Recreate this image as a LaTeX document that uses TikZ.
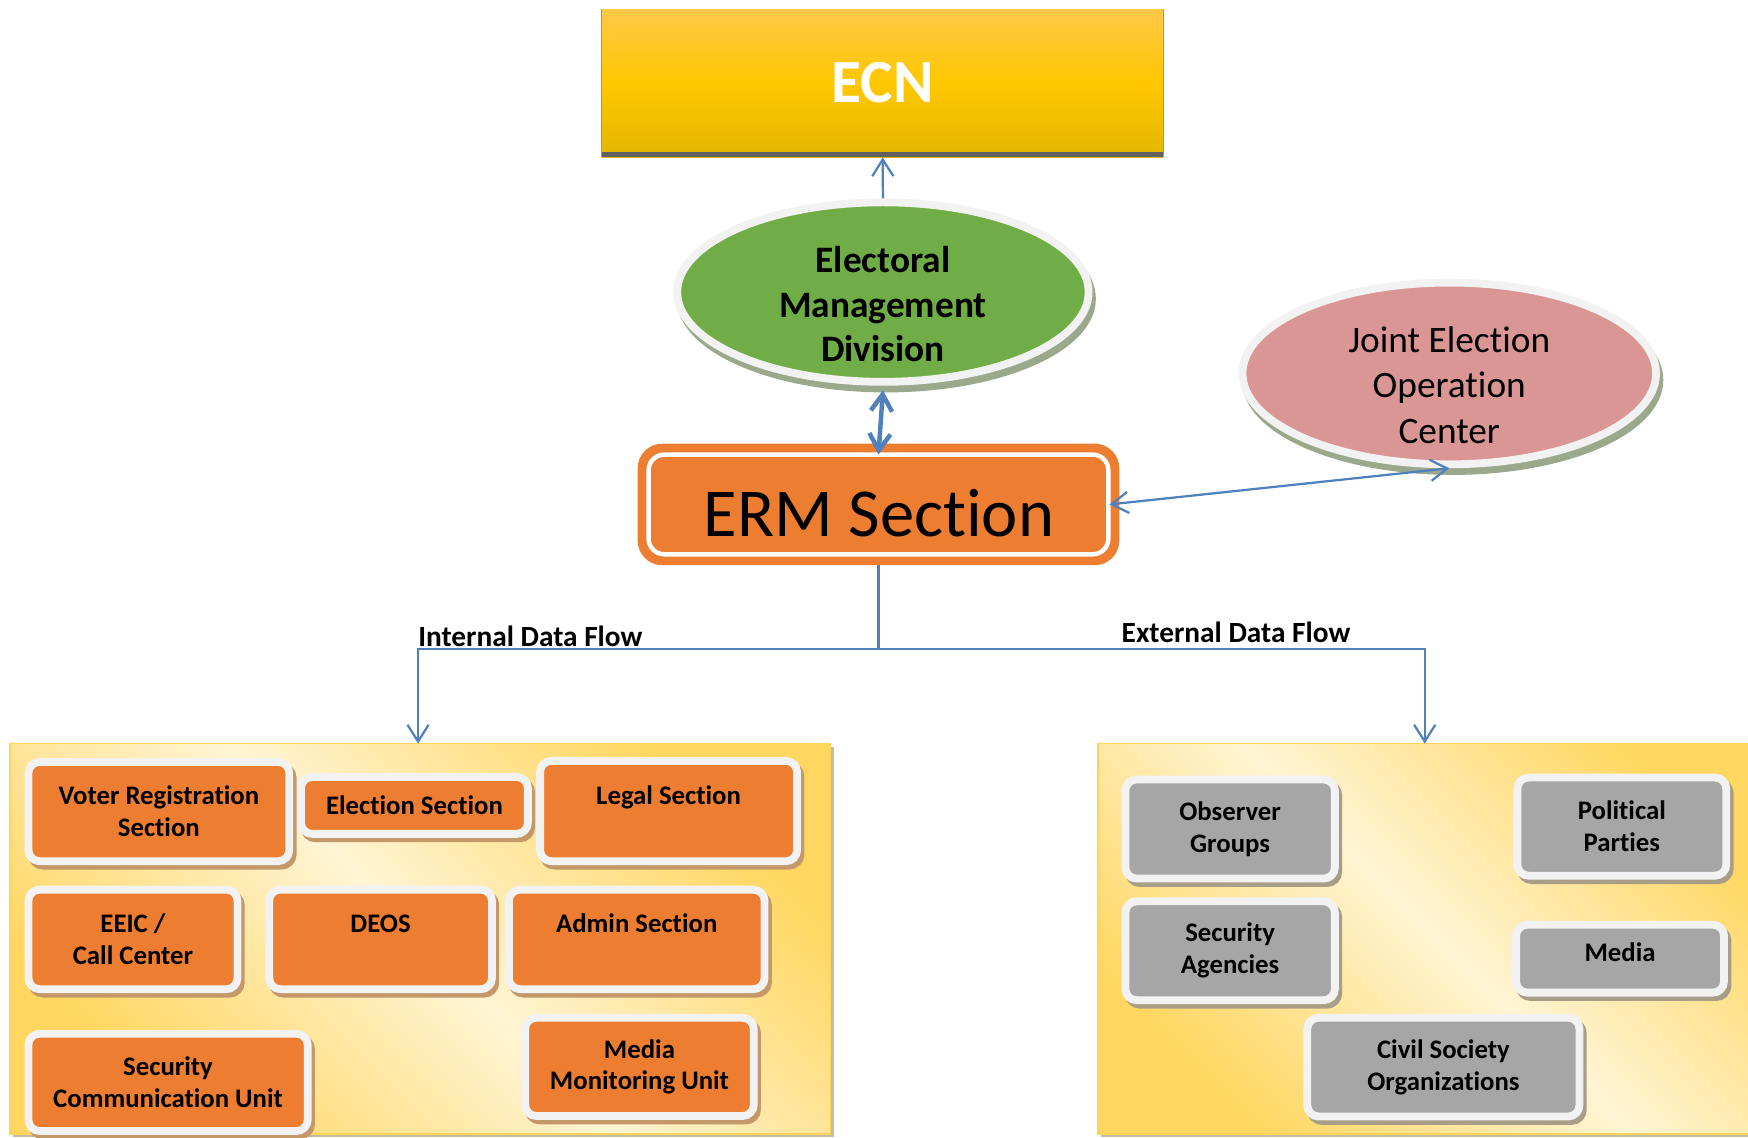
\documentclass[tikz,border=0pt]{standalone}
\usepackage{fontspec}
\setmainfont{Carlito}[Ligatures=CommonOff]
\usetikzlibrary{arrows.meta,shapes.geometric}
\definecolor{flowblue}{RGB}{79,129,189}
\definecolor{boxorange}{RGB}{237,125,49}
\definecolor{boxgray}{RGB}{166,166,166}
\definecolor{ringgray}{RGB}{242,242,242}
\definecolor{emdgreen}{RGB}{112,173,71}
\definecolor{jeocpink}{RGB}{217,150,148}
\definecolor{panelyellow}{RGB}{255,214,95}
\definecolor{panelcream}{RGB}{255,244,212}
\definecolor{panelborder}{RGB}{255,212,90}
\definecolor{panelshadow}{RGB}{196,188,160}
\definecolor{ecntop}{RGB}{255,200,72}
\definecolor{ecnmid}{RGB}{255,199,0}
\definecolor{ecnbot}{RGB}{228,182,0}
\definecolor{ecnband}{RGB}{96,96,96}
\definecolor{ecnedge}{RGB}{150,150,150}
\definecolor{oshadow}{RGB}{196,152,105}
\definecolor{gshadow}{RGB}{168,158,136}
\definecolor{eshadow}{RGB}{155,168,140}
\begin{document}
\begin{tikzpicture}[x=1pt,y=-1pt,
  >={Straight Barb[length=15pt,width=19pt]},
  flow/.style={draw=flowblue, line width=2pt},
  unitbox/.style 2 args={rectangle, rounded corners=10pt, draw=ringgray, line width=7pt,
    fill=#1, inner sep=0pt, align=center,
    font=\fontsize{24}{28.6}\selectfont\bfseries,
    preaction={draw=#2, fill=#2, line width=7pt, transform canvas={shift={(3pt,-4pt)}}}},
  obox/.style={unitbox={boxorange}{oshadow}},
  gbox/.style={unitbox={boxgray}{gshadow}},
  ringell/.style={ellipse, draw=ringgray, line width=7pt, fill=#1, inner sep=0pt,
    preaction={draw=eshadow, fill=eshadow, line width=7pt, transform canvas={shift={(3pt,-6pt)}}}},
  panel/.style={rectangle, draw=panelborder, line width=1.5pt, inner sep=0pt,
    preaction={fill=panelshadow, transform canvas={shift={(3pt,-3pt)}}},
    top color=panelyellow, bottom color=panelyellow, middle color=panelcream, shading angle=-45},
  flowlabel/.style={anchor=base west, inner sep=0pt, font=\fontsize{26.3}{30}\selectfont\bfseries},
]
\useasboundingbox (0,0) rectangle (1568,1020);
\fill[white] (0,0) rectangle (1568,1020);
\clip (0,0) rectangle (1568,1020);

% panels
\node[panel, minimum width=736pt, minimum height=350pt] (ipanel) at (377,842) {};
\node[panel, minimum width=615pt, minimum height=350pt] (epanel) at (1292.5,842) {};

% ECN
\node[rectangle, inner sep=0pt, minimum width=503.6pt, minimum height=132.6pt,
  top color=ecntop, bottom color=ecnbot, middle color=ecnmid] (ecn) at (791.8,74.7) {};
\fill[ecnband] ([yshift=5pt]ecn.south west) rectangle (ecn.south east);
\draw[ecnedge, line width=0.8pt] (ecn.north west) -- (ecn.south west);
\draw[ecnedge, line width=0.8pt] (ecn.north east) -- (ecn.south east);
\node[anchor=base, text=white, font=\fontsize{55}{60}\selectfont\bfseries] (ecntext) at (791.8,92) {ECN};

% Electoral Management Division
\node[ringell=emdgreen, minimum width=369pt, minimum height=161pt] (emd) at (792,262) {};
\node[align=center, inner sep=0pt, font=\fontsize{33.5}{40}\selectfont\bfseries] (emdtext) at (792,273)
  {Electoral\\Management\\Division};

% Joint Election Operation Center
\node[ringell=jeocpink, minimum width=371pt, minimum height=163pt] (jeoc) at (1300,335) {};
\node[align=center, inner sep=0pt, font=\fontsize{33.5}{40.4}\selectfont] (jeoctext) at (1300,345.5)
  {Joint Election\\Operation\\Center};

% ERM Section
\node[rectangle, rounded corners=22pt, fill=boxorange, inner sep=0pt,
  minimum width=432pt, minimum height=109pt] (erm) at (788,452.5) {};
\draw[white, line width=4pt, rounded corners=14pt]
  ([shift={(10,10)}]erm.north west) rectangle ([shift={(-10,-10)}]erm.south east);
\node[anchor=base, font=\fontsize{61.5}{70}\selectfont] (ermtext) at (788.5,481.3) {ERM Section};

% internal units
\node[obox, minimum width=234pt, minimum height=89pt] (vrs) at (142.5,728) {Voter Registration\\Section};
\node[obox, minimum width=203.5pt, minimum height=51pt] (elec) at (371.75,722.5) {Election Section};
\node[obox, minimum width=230.5pt, minimum height=90pt] (legal) at (599.75,727.5) {Legal Section\\\mbox{}};
\node[obox, minimum width=187.5pt, minimum height=89.3pt] (eeic) at (119.25,842.65) {EEIC /\\Call Center};
\node[obox, minimum width=199.8pt, minimum height=89.3pt] (deos) at (341.4,842.65) {DEOS\\\mbox{}};
\node[obox, minimum width=229.3pt, minimum height=89.3pt] (admin) at (571.15,842.65) {Admin Section\\\mbox{}};
\node[obox, minimum width=250.5pt, minimum height=87.3pt] (scu) at (150.75,970.85) {Security\\Communication Unit};
\node[obox, minimum width=205pt, minimum height=88.1pt] (mmu) at (573.6,957) {Media\\Monitoring Unit};

% external bodies
\node[gbox, minimum width=187.9pt, minimum height=88.9pt] (obs) at (1103.45,743.65) {Observer\\Groups};
\node[gbox, minimum width=187.9pt, minimum height=88.7pt] (secag) at (1103.45,852.85) {Security\\Agencies};
\node[gbox, minimum width=187.4pt, minimum height=88pt] (pol) at (1454.8,741.5) {Political\\Parties};
\node[gbox, minimum width=186.5pt, minimum height=60.9pt, text depth=11.5pt] (media) at (1453.25,859.95) {Media};
\node[gbox, minimum width=244.1pt, minimum height=88.6pt] (cso) at (1294.75,957.2) {Civil Society\\Organizations};

% connectors
\draw[flow, ->] (emd.north) -- (ecn.south);
\draw[flow, line width=4pt, <->] ([yshift=-4pt]emd.south) -- ([yshift=-10pt]erm.north);
\draw[flow, <->] ([xshift=-9pt]erm.east) -- (jeoc.south);
\coordinate (split) at (788,582);
\coordinate (itarget) at (375,667);
\coordinate (etarget) at (1278,667);
\draw[flow] (erm.south) -- (split);
\draw[flow, ->] (split) -| (itarget);
\draw[flow, ->] (split) -| (etarget);

% flow labels
\node[flowlabel] (intlabel) at (375,580) {Internal Data Flow};
\node[flowlabel] (extlabel) at (1006,576.4) {External Data Flow};
\end{tikzpicture}
\end{document}
